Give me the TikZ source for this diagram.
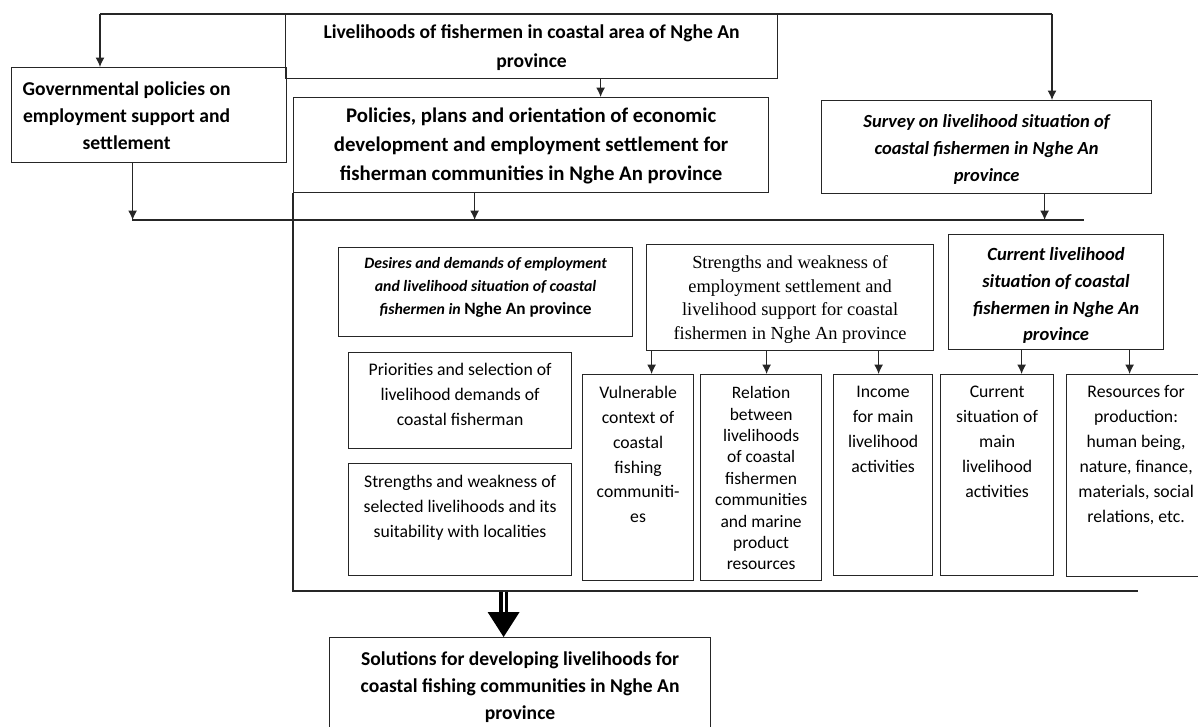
\documentclass[tikz,border=0pt]{standalone}
\usepackage{fontspec}
\setmainfont{Carlito}
\newfontfamily\camb{Liberation Serif}
\usetikzlibrary{arrows.meta}
\newcommand{\fl}{\rule{0pt}{14pt}}
\newcommand{\bt}[4]{\parbox[c][#2][t]{#1}{\centering\vspace*{#3}\fl #4}}
\begin{document}
\begin{tikzpicture}[x=1pt,y=-1pt,
  bx/.style={draw=black!85,line width=1.2pt,inner sep=0pt,anchor=north west},
  ln/.style={draw=black!85,line width=1.2pt},
  arr/.style={draw=black!85,line width=1.2pt,-{Latex[length=9.5pt,width=9pt]}},
  bf/.style={font=\fontsize{19.6}{27}\selectfont\bfseries},
  bi/.style={font=\fontsize{18.5}{27}\selectfont\bfseries\itshape},
  rg/.style={font=\fontsize{17.7}{25}\selectfont}]
\useasboundingbox (0,0) rectangle (1198,726);

% top level
\node[bx,font=\fontsize{19.6}{29}\selectfont\bfseries] (top) at (285,14) {\bt{492pt}{64pt}{10pt}{Livelihoods of fishermen in coastal area of Nghe An\\province}};
\node[bx,bf] (gov) at (11,67) {\parbox[c][95pt][t]{275pt}{\vspace*{14pt}\hspace*{3pt}\parbox[t]{224pt}{\centering\fl Governmental policies on\\employment support and\\settlement}}};
\node[bx,font=\fontsize{20.8}{29}\selectfont\bfseries] (pol) at (293,97) {\bt{475pt}{95pt}{10pt}{Policies, plans and orientation of economic\\development and employment settlement for\\fisherman communities in Nghe An province}};
\node[bx,bi] (survey) at (821,100) {\bt{330pt}{93pt}{13pt}{Survey on livelihood situation of\\coastal fishermen in Nghe An\\province}};

% second level
\node[bx,font=\fontsize{15.8}{23}\selectfont\bfseries\itshape] (des) at (338,247) {\bt{294pt}{89pt}{7pt}{Desires and demands of employment\\and livelihood situation of coastal\\fishermen in {\fontsize{17.3}{23}\selectfont\upshape Nghe An province}}};
\node[bx,font=\fontsize{18.4}{23.5}\selectfont\camb] (str) at (646,244) {\bt{287pt}{106pt}{10pt}{Strengths and weakness of\\employment settlement and\\livelihood support for coastal\\fishermen in Nghe An province}};
\node[bx,font=\fontsize{18.6}{26.7}\selectfont\bfseries\itshape] (clv) at (948,234) {\bt{215pt}{115pt}{12pt}{Current livelihood\\situation of coastal\\fishermen in Nghe An\\province}};

\node[bx,rg] (pri) at (348,352) {\bt{223pt}{96pt}{9pt}{Priorities and selection of\\livelihood demands of\\coastal fisherman}};
\node[bx,rg] (sel) at (348,463) {\bt{223pt}{112pt}{10pt}{Strengths and weakness of\\selected livelihoods and its\\suitability with localities}};
\node[bx,font=\fontsize{17.7}{24.8}\selectfont] (vul) at (582,374) {\bt{111pt}{206pt}{10pt}{Vulnerable\\context of\\coastal\\fishing\\communiti-\\es}};
\node[bx,font=\fontsize{17.5}{21.4}\selectfont] (rel) at (700,374) {\bt{121pt}{206pt}{10pt}{Relation\\between\\livelihoods\\of coastal\\fishermen\\communities\\and marine\\product\\resources}};
\node[bx,rg] (inc) at (833,374) {\bt{99pt}{201pt}{9pt}{Income\\for main\\livelihood\\activities}};
\node[bx,rg] (cur) at (940,374) {\bt{113pt}{201pt}{9pt}{Current\\situation of\\main\\livelihood\\activities}};
\node[bx,rg] (res) at (1066,374) {\bt{139pt}{202pt}{9pt}{Resources for\\production:\\human being,\\nature, finance,\\materials, social\\relations, etc.}};

\node[bx,bf] (sol) at (329,637) {\bt{381pt}{93pt}{14pt}{Solutions for developing livelihoods for\\coastal fishing communities in Nghe An\\province}};

% coordinates
\coordinate (tl) at (100,14);
\coordinate (tr) at (1052,14);
\coordinate (h1) at (132,220);
\coordinate (h2) at (1084,220);
\coordinate (b1) at (293,591);
\coordinate (b2) at (1138,591);
\coordinate (a1) at ([xshift=69pt]top.south);
\coordinate (g1) at ([xshift=-16.5pt]gov.south);
\coordinate (p1) at ([xshift=-56.5pt]pol.south);
\coordinate (s1) at ([xshift=58pt]survey.south);
\coordinate (t1) at ([xshift=-138.5pt]str.south);
\coordinate (t2) at ([xshift=-23.5pt]str.south);
\coordinate (t3) at ([xshift=88.5pt]str.south);
\coordinate (c1) at ([xshift=-34.5pt]clv.south);
\coordinate (c2) at ([xshift=73.5pt]clv.south);
\coordinate (k0) at ([xshift=-16.5pt]sol.north);
\coordinate (k1) at (k0 |- b1);
\coordinate (k2) at ([yshift=25pt]k0);

% connectors
\draw[ln] (tl) -- (tr);
\draw[arr] (tl) -- (tl |- gov.north);
\draw[arr] (tr) -- (tr |- survey.north);
\draw[arr] (a1) -- (a1 |- pol.north);
\draw[ln] (h1) -- (h2);
\draw[arr] (g1) -- (g1 |- h1);
\draw[arr] (p1) -- (p1 |- h1);
\draw[arr] (s1) -- (s1 |- h1);
\draw[ln] (pol.south west) -- (b1) -- (b2);
\draw[arr] (t1) -- (t1 |- vul.north);
\draw[arr] (t2) -- (t2 |- rel.north);
\draw[arr] (t3) -- (t3 |- inc.north);
\draw[arr] (c1) -- (c1 |- cur.north);
\draw[arr] (c2) -- (c2 |- res.north);
\draw[draw=black,line width=3.5pt,double=white,double distance=2pt] ([yshift=-0.6pt]k1) -- (k2);
\fill[black] ([xshift=-16pt]k2) -- ([xshift=16pt]k2) -- (k0) -- cycle;
\end{tikzpicture}
\end{document}
